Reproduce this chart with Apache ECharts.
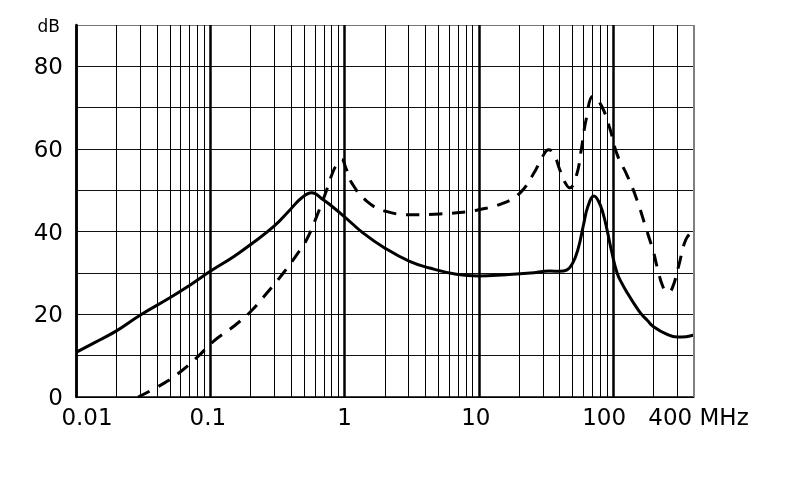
<!DOCTYPE html>
<html><head><meta charset="utf-8">
<script src="https://cdn.jsdelivr.net/npm/echarts@6/dist/echarts.min.js"></script>
<style>html,body{margin:0;padding:0;background:#fff}#c{width:790px;height:489px}</style>
</head><body><div id="c"></div>
<script>
// Frequency (MHz) / attenuation (dB)
const solidCurve = [
  [0.01,10.8],[0.015,13.8],[0.02,16],[0.03,19.8],[0.05,24],[0.07,27],[0.1,30.4],
  [0.15,34],[0.2,36.9],[0.3,41.4],[0.39,45.2],[0.48,48.2],[0.57,49.4],[0.69,47.8],
  [0.8,46.2],[1,43.6],[1.37,39.7],[2,36],[3.05,32.8],[4.3,31.2],[6.8,29.7],[10,29.3],
  [15.9,29.6],[24.2,30],[33.8,30.5],[40,30.4],[45,30.7],[50,32.4],[55,36],
  [60,41.5],[65,46.2],[72,48.6],[78,47.3],[84,44.5],[90,40.5],[97,35.5],[107,30],
  [117,27.3],[128,25.1],[145,22.3],[160,20.3],[180,18.5],[200,17],[250,15.2],
  [300,14.5],[350,14.6],[400,15]
];
const dashedCurve = [
  [0.029,0],[0.045,3.3],[0.06,6.1],[0.081,9.8],[0.105,13.4],[0.148,17],[0.2,20.7],
  [0.263,25.1],[0.35,30],[0.44,34.4],[0.52,38],[0.62,43.7],[0.73,49.8],[0.82,54.5],
  [0.88,56.3],[0.95,57.5],[1.02,55.5],[1.13,51.8],[1.46,47.4],[2.04,44.9],[3.24,44.1],
  [5.1,44.3],[7.6,44.7],[10,45.3],[15.2,46.9],[20.3,49.4],[25.5,54],[30,58.3],
  [33,59.8],[36,59],[40,55],[44,51.8],[47.5,50.6],[53.3,53.6],[58,60],[63,67.2],[71,72.8],
  [82,70.4],[95,64.7],[107,58.7],[128,53.4],[150,47.8],[177,40.5],[200,35],[212,31.6],
  [236,26.5],[256,25.3],[276,26.4],[307,31.6],[348,38.1],[400,40.5]
];
const minorFreqs = [
  0.02,0.03,0.04,0.05,0.06,0.07,0.08,0.09,
  0.2,0.3,0.4,0.5,0.6,0.7,0.8,0.9,
  2,3,4,5,6,7,8,9,
  20,30,40,50,60,70,80,90,
  200,300
];
const yTickLabels = ['0','20','40','60','80'];
const yUnit = 'dB';
const xUnit = 'MHz';
const xMin = 0.01, xMax = 400;

const near = (a, b) => Math.abs(Math.log10(a) - Math.log10(b)) < 1e-6;

const chart = echarts.init(document.getElementById('c'), null, {renderer: 'canvas'});
const font = 'DejaVu Sans';
chart.setOption({
  animation: false,
  backgroundColor: '#fff',
  grid: {left: 76, right: 96, top: 25, bottom: 92},
  xAxis: {
    type: 'log', logBase: 10, min: xMin, max: xMax,
    axisLine: {show: true, lineStyle: {color: '#000', width: 1.5}},
    axisTick: {show: false},
    minorTick: {show: false},
    splitLine: {show: true, showMaxLine: false, lineStyle: {color: '#000', width: 2.5}},
    axisLabel: {
      show: true, showMinLabel: true, showMaxLabel: true,
      color: '#000', fontFamily: font, fontSize: 23, margin: 11,
      formatter: function (v) {
        if (near(v, xMax)) return '{c|' + xMax + ' ' + xUnit + '}';
        if (near(v, 0.01)) return '{a|0.01}';
        if (near(v, 0.1)) return '{e|0.1}';
        if (near(v, 1)) return '{n|1}';
        if (near(v, 10)) return '{d|10}';
        if (near(v, 100)) return '{b|100}';
        return '';
      },
      rich: {
        a: {fontFamily: font, fontSize: 23, color: '#000', padding: [0, 0, 0, 22]},
        b: {fontFamily: font, fontSize: 23, color: '#000', padding: [0, 18, 0, 0]},
        c: {fontFamily: font, fontSize: 23, color: '#000', padding: [0, 0, 0, 9]},
        d: {fontFamily: font, fontSize: 23, color: '#000', padding: [0, 6, 0, 0]},
        e: {fontFamily: font, fontSize: 23, color: '#000', padding: [0, 5, 0, 0]},
        n: {fontFamily: font, fontSize: 23, color: '#000'}
      }
    }
  },
  yAxis: {
    type: 'value', min: 0, max: 90, interval: 10,
    axisLine: {show: true, lineStyle: {color: '#000', width: 2.5}},
    axisTick: {show: false},
    splitLine: {show: true, lineStyle: {
      color: ['#000','#111','#111','#111','#111','#111','#111','#111','#111','#777'], width: 1}},
    axisLabel: {
      color: '#000', fontFamily: font, fontSize: 23, margin: 13,
      formatter: function (v) {
        if (v === 90) return '{u|' + yUnit + '}';
        const s = String(v);
        return yTickLabels.indexOf(s) >= 0 ? '{v|' + s + '}' : '';
      },
      rich: {
        u: {fontFamily: font, fontSize: 17, color: '#000', padding: [5, 3, 0, 0]},
        v: {fontFamily: font, fontSize: 23, color: '#000', padding: [4, 0, 0, 0]}
      }
    }
  },
  series: [
    {
      type: 'line', data: [], silent: true, z: 1,
      markLine: {
        silent: true, symbol: ['none', 'none'], animation: false,
        label: {show: false},
        lineStyle: {color: '#000', width: 1, type: 'solid'},
        emphasis: {disabled: true},
        data: minorFreqs.map(f => ({xAxis: f})).concat([
          {xAxis: xMax, lineStyle: {color: '#808080', width: 2, type: 'solid'}}
        ])
      }
    },
    {
      type: 'line', data: solidCurve, smooth: 0.45, symbol: 'none', z: 3,
      lineStyle: {color: '#000', width: 3, type: 'solid'}
    },
    {
      type: 'line', data: dashedCurve, smooth: 0.45, symbol: 'none', z: 3,
      lineStyle: {color: '#000', width: 3, type: [13, 10]}
    }
  ]
});
</script>
</body></html>
